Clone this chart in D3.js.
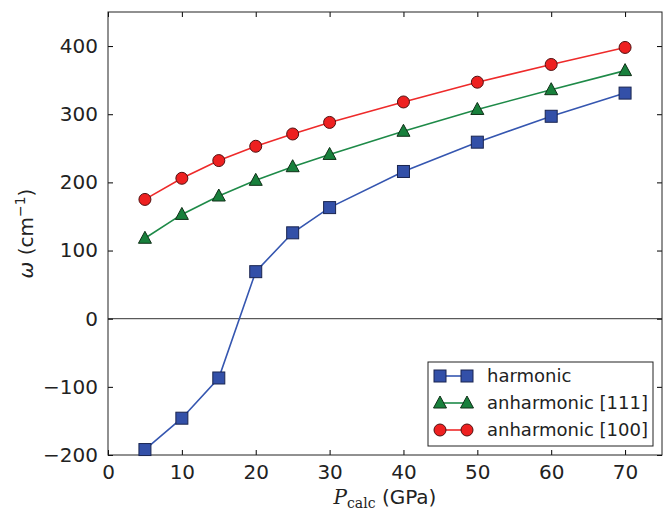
<!DOCTYPE html>
<html>
<head>
<meta charset="utf-8" />
<script src="https://cdn.jsdelivr.net/npm/d3@7"></script>
<style>
  body { margin: 0; background: #fff; }
  text { font-family: "DejaVu Sans", sans-serif; fill: #222; }
</style>
</head>
<body>
<script>

var pressure = [5, 10, 15, 20, 25, 30, 40, 50, 60, 70];
var harmonic = [-192, -146, -87, 69, 126, 163, 216, 259, 297, 331];
var anh111 = [118, 153, 180, 203, 223, 241, 275, 307, 336, 364];
var anh100 = [175, 206, 232, 253, 271, 288, 318, 347, 373, 398];
var xTicks = [0, 10, 20, 30, 40, 50, 60, 70];
var yTicks = [-200, -100, 0, 100, 200, 300, 400];
var seriesNames = ["harmonic", "anharmonic [111]", "anharmonic [100]"];

var width = 664, height = 513;
var m = { left: 108, right: 2, top: 12, bottom: 58 };

var svg = d3.select("body").append("svg")
    .attr("width", width)
    .attr("height", height);

var x = d3.scaleLinear().domain([0, 75]).range([m.left, width - m.right]);
var y = d3.scaleLinear().domain([-200, 450]).range([height - m.bottom, m.top]);

var series = [
    { name: seriesNames[0], values: harmonic, line: "#3556b0", fill: "#3350a8", shape: "square" },
    { name: seriesNames[1], values: anh111, line: "#1e8a48", fill: "#18803c", shape: "triangle" },
    { name: seriesNames[2], values: anh100, line: "#ee2a2a", fill: "#ee2020", shape: "circle" }
];

// zero line
svg.append("line")
    .attr("x1", x(0)).attr("x2", x(75))
    .attr("y1", y(0)).attr("y2", y(0))
    .attr("stroke", "#333").attr("stroke-width", 1);

// axes, ticks inward on all sides
var tickLen = 5;
svg.append("g")
    .attr("transform", "translate(0," + y(-200) + ")")
    .call(d3.axisBottom(x).tickValues(xTicks).tickSizeInner(-tickLen).tickSizeOuter(0).tickPadding(10))
    .call(function(g) {
        g.select(".domain").remove();
        g.selectAll("text").attr("font-size", 20).style("font-family", "DejaVu Sans").attr("fill", "#222");
    });
svg.append("g")
    .attr("transform", "translate(0," + y(450) + ")")
    .call(d3.axisTop(x).tickValues(xTicks).tickSizeInner(-tickLen).tickSizeOuter(0).tickFormat(""))
    .call(function(g) { g.select(".domain").remove(); });
svg.append("g")
    .attr("transform", "translate(" + x(0) + ",0)")
    .call(d3.axisLeft(y).tickValues(yTicks).tickSizeInner(-tickLen).tickSizeOuter(0).tickPadding(10)
        .tickFormat(function(d) { return d < 0 ? "\u2212" + Math.abs(d) : d; }))
    .call(function(g) {
        g.select(".domain").remove();
        g.selectAll("text").attr("font-size", 20).style("font-family", "DejaVu Sans").attr("fill", "#222");
    });
svg.append("g")
    .attr("transform", "translate(" + x(75) + ",0)")
    .call(d3.axisRight(y).tickValues(yTicks).tickSizeInner(-tickLen).tickSizeOuter(0).tickFormat(""))
    .call(function(g) { g.select(".domain").remove(); });

svg.append("rect")
    .attr("x", x(0)).attr("y", y(450))
    .attr("width", x(75) - x(0)).attr("height", y(-200) - y(450))
    .attr("fill", "none").attr("stroke", "#222").attr("stroke-width", 1);

function drawMarker(g, shape, cx, cy, fill) {
    if (shape === "square") {
        g.append("rect").attr("x", cx - 6).attr("y", cy - 6).attr("width", 12).attr("height", 12)
            .attr("fill", fill).attr("stroke", "#1a2550").attr("stroke-width", 1);
    } else if (shape === "triangle") {
        g.append("path").attr("d", "M" + cx + "," + (cy - 7) + "L" + (cx + 6.5) + "," + (cy + 5) + "L" + (cx - 6.5) + "," + (cy + 5) + "Z")
            .attr("fill", fill).attr("stroke", "#103018").attr("stroke-width", 1);
    } else {
        g.append("circle").attr("cx", cx).attr("cy", cy).attr("r", 6)
            .attr("fill", fill).attr("stroke", "#501010").attr("stroke-width", 1);
    }
}

var line = d3.line()
    .x(function(d, i) { return x(pressure[i]); })
    .y(function(d) { return y(d); });

series.forEach(function(s) {
    svg.append("path")
        .attr("d", line(s.values))
        .attr("fill", "none")
        .attr("stroke", s.line)
        .attr("stroke-width", 1.6);
    var g = svg.append("g");
    s.values.forEach(function(v, i) {
        drawMarker(g, s.shape, x(pressure[i]), y(v), s.fill);
    });
});

// legend
var lg = svg.append("g");
lg.append("rect")
    .attr("x", 428).attr("y", 362).attr("width", 225).attr("height", 84)
    .attr("fill", "#fff").attr("stroke", "#222").attr("stroke-width", 1);
series.forEach(function(s, i) {
    var ly = 376 + i * 27;
    lg.append("line").attr("x1", 440).attr("x2", 467).attr("y1", ly).attr("y2", ly)
        .attr("stroke", s.line).attr("stroke-width", 1.6);
    drawMarker(lg, s.shape, 440, ly, s.fill);
    drawMarker(lg, s.shape, 467, ly, s.fill);
    lg.append("text").attr("x", 487).attr("y", ly + 6).attr("font-size", 18).text(s.name);
});

// axis labels
var xl = svg.append("text")
    .attr("x", 385).attr("y", 504)
    .attr("text-anchor", "middle")
    .attr("font-size", 20);
xl.append("tspan").text("P").style("font-family", "DejaVu Serif").style("font-style", "italic");
xl.append("tspan").text("calc").attr("dy", 4).attr("font-size", 14).style("font-family", "DejaVu Serif");
xl.append("tspan").text(" (GPa)").attr("dy", -4);

var yl = svg.append("text")
    .attr("transform", "translate(33," + y(125) + ") rotate(-90)")
    .attr("text-anchor", "middle")
    .attr("font-size", 20);
yl.append("tspan").text("\u03c9").style("font-style", "italic");
yl.append("tspan").text(" (cm");
yl.append("tspan").text("\u22121").attr("dy", -8).attr("font-size", 14);
yl.append("tspan").text(")").attr("dy", 8);

</script>
</body>
</html>
